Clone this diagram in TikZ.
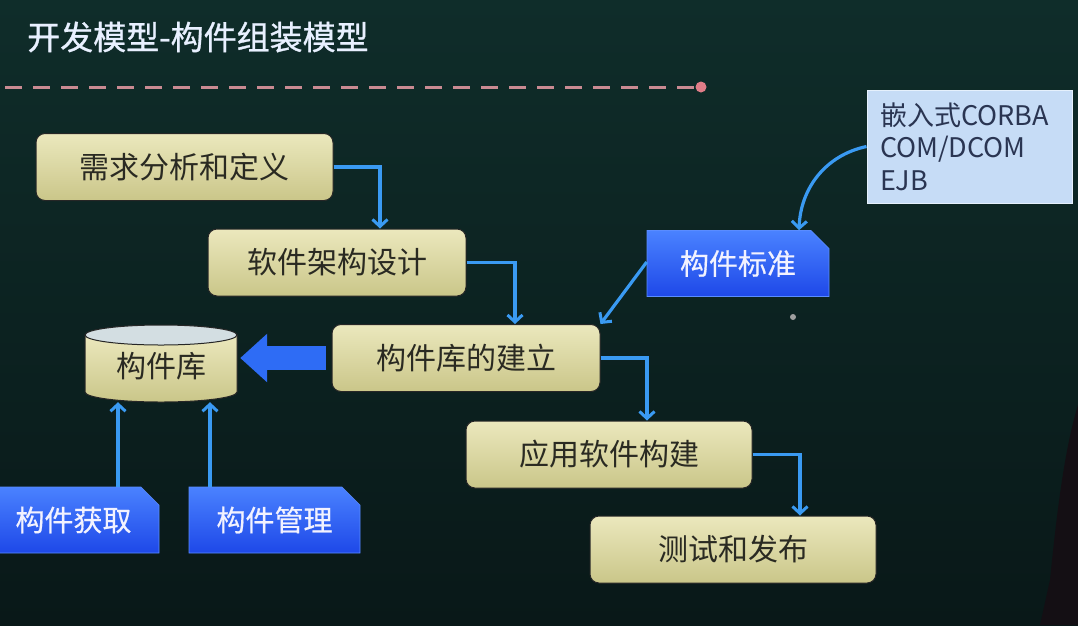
\documentclass[tikz,border=0pt]{standalone}
\usepackage{fontspec}
\setmainfont{Noto Sans CJK SC}
\newfontfamily\semibold{Noto Sans CJK SC}[FakeBold=0.9]
\newfontfamily\lightbold{Noto Sans CJK SC}[FakeBold=0.5]
\usetikzlibrary{arrows.meta,shapes.misc,calc}
\definecolor{bgtop}{HTML}{0F2D2A}
\definecolor{bgbot}{HTML}{091818}
\definecolor{titlec}{HTML}{E8F0FF}
\definecolor{dashc}{HTML}{C98A92}
\definecolor{dotc}{HTML}{E07D88}
\definecolor{yT}{HTML}{EBE8BD}
\definecolor{yB}{HTML}{CAC689}
\definecolor{ytext}{HTML}{2A2A22}
\definecolor{thinblue}{HTML}{3A9AF2}
\definecolor{bigblue}{HTML}{2E6CF5}
\definecolor{bT}{HTML}{4A82FF}
\definecolor{bB}{HTML}{1E48E8}
\definecolor{bline}{HTML}{5A8CFF}
\definecolor{lfill}{HTML}{C6DCF6}
\definecolor{lline}{HTML}{E5F0FC}
\definecolor{ltext}{HTML}{2A3552}
\definecolor{cyltop}{HTML}{D3DEE2}
\definecolor{silh}{HTML}{140F14}
\begin{document}
\begin{tikzpicture}[x=1pt,y=-1pt,
  ybox/.style={rectangle, rounded corners=9pt, draw=black!85, line width=1pt,
    top color=yT, bottom color=yB, minimum height=67pt, inner sep=0pt,
    text=ytext, font=\fontsize{30}{36}\selectfont},
  bbox/.style={chamfered rectangle, chamfered rectangle corners=north east,
    chamfered rectangle xsep=9pt, chamfered rectangle ysep=9pt,
    top color=bT, bottom color=bB, draw=bline, line width=0.6pt,
    minimum height=66pt, inner sep=0pt, text=white!95!blue,
    font=\lightbold\fontsize{29}{34}\selectfont},
  arr/.style={draw=thinblue, line width=3.2pt,
    -{Straight Barb[length=7pt,width=15pt,line width=3pt]}},
  bigarr/.style={draw=bigblue, line width=24pt,
    -{Triangle[length=27pt,width=47pt]}}
]
\useasboundingbox (0,0) rectangle (1078,625);
\clip (0,0) rectangle (1078,625);
\shade[top color=bgtop, bottom color=bgbot] (0,0) rectangle (1078,625);
\fill[silh] (1078,405) .. controls (1064,450) and (1056,520) .. (1050,580) -- (1040,625) -- (1078,625) -- cycle;

% title and rule
\node[anchor=west, text=titlec, font=\semibold\fontsize{33}{40}\selectfont, inner sep=0pt] (title) at (27,37) {开发模型-构件组装模型};
\coordinate (dstart) at (5,87);
\node[circle, fill=dotc, inner sep=0pt, minimum size=11pt] (dot) at (701,87) {};
\draw[dashc, line width=3pt, dash pattern=on 17pt off 11pt] (dstart) -- (dot.west);

% process boxes
\node[ybox, minimum width=297pt] (req) at (184.5,167) {需求分析和定义};
\node[ybox, minimum width=258pt] (arch) at (337,262.5) {软件架构设计};
\node[ybox, minimum width=268pt] (build) at (466,358) {构件库的建立};
\node[ybox, minimum width=286pt] (app) at (609,454.5) {应用软件构建};
\node[ybox, minimum width=286pt] (test) at (733,549.5) {测试和发布};

% cylinder
\shade[top color=yT, bottom color=yB, draw=black!85, line width=1pt]
  (85,335) -- (85,392) arc[start angle=180, end angle=0, x radius=76, y radius=10] -- (237,335) -- cycle;
\filldraw[fill=cyltop, draw=black!85, line width=1pt] (161,335) ellipse[x radius=76, y radius=10];
\node[minimum width=152pt, minimum height=72pt, inner sep=0pt, text=ytext, font=\fontsize{30}{36}\selectfont] (lib) at (161,366) {构件库};

% blue boxes
\node[bbox, minimum width=171pt] (acq) at (73.5,520) {构件获取};
\node[bbox, minimum width=171pt] (mgmt) at (274.5,520) {构件管理};
\node[bbox, minimum width=182pt] (std) at (738,263.5) {构件标准};

% light list box
\node[rectangle, fill=lfill, draw=lline, line width=1pt, minimum width=205pt, minimum height=113pt,
  text width=179pt, inner xsep=13pt, inner ysep=0pt, align=left, text=ltext,
  font=\fontsize{27}{32.5}\selectfont] (lst) at (969.5,146.5) {嵌入式CORBA\\COM/DCOM\\EJB};

% connectors
\draw[arr] (req.east) -| ([xshift=43pt]arch.north);
\draw[arr] (arch.east) -| ([xshift=49pt]build.north);
\draw[arr] (build.east) -| ([xshift=38pt]app.north);
\draw[arr] (app.east) -| ([xshift=67pt]test.north);
\draw[bigarr, shorten <=6pt, shorten >=3pt] (build.west) -- (build.west -| lib.east);
\draw[arr] ([xshift=44.5pt]acq.north) -- ([xshift=44.5pt]acq.north |- lib.south);
\draw[arr] ([xshift=-64.5pt]mgmt.north) -- ([xshift=-64.5pt]mgmt.north |- lib.south);
\draw[arr] ([yshift=1.5pt]std.west) -- (build.north east);
\draw[arr] (lst.west) to[out=192, in=88] ([xshift=61pt]std.north);

\node[circle, fill=gray!75, inner sep=0pt, minimum size=6pt] (pdot) at (793,317) {};
\end{tikzpicture}
\end{document}
